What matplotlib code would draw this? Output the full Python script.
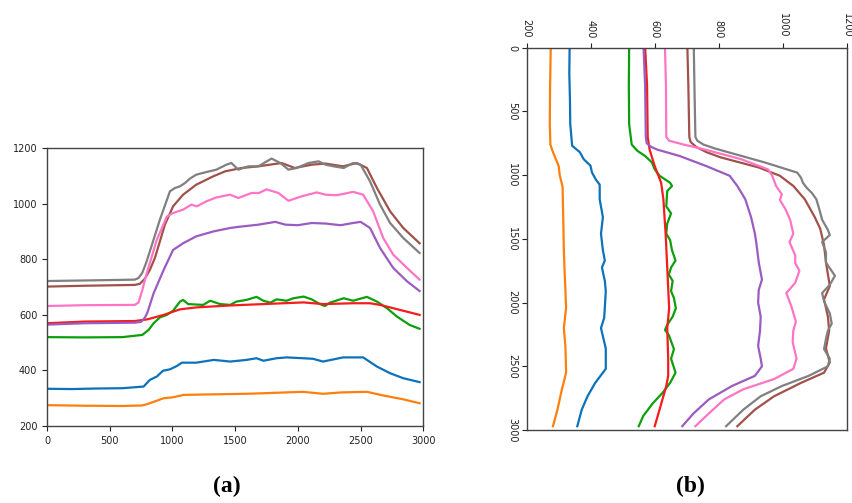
import numpy as np
import matplotlib.pyplot as plt

# spectra along the scan, read at key positions
orange_x = [0, 300, 600, 760, 800, 850, 930, 1000, 1090, 1330, 1590, 1730, 1850, 2040, 2200, 2350, 2550,
            2680, 2840, 2970]
orange_y = [275, 273, 272, 274, 279, 287, 300, 303, 312, 314, 316, 318, 320, 323, 316, 321, 323,
            310, 296, 282]

blue_x = [0, 200, 400, 600, 770, 820, 875, 925, 980, 1035, 1075, 1190, 1330, 1460, 1590, 1670, 1725,
          1830, 1910, 2040, 2120, 2200, 2360, 2520, 2630, 2735, 2840, 2970]
blue_y = [334, 333, 335, 336, 342, 366, 378, 399, 404, 416, 428, 428, 438, 432, 438, 444, 435,
          444, 447, 444, 442, 432, 447, 447, 414, 390, 372, 358]

green_x = [0, 300, 600, 760, 810, 850, 900, 955, 1005, 1060, 1085, 1125, 1245, 1300, 1380, 1460, 1510,
           1590, 1670, 1725, 1780, 1830, 1910, 1965, 2045, 2110, 2175, 2215, 2255, 2365, 2440, 2550,
           2630, 2710, 2790, 2890, 2970]
green_y = [520, 519, 520, 528, 546, 570, 591, 600, 615, 648, 654, 639, 636, 651, 639, 636, 648,
           654, 665, 651, 644, 656, 651, 660, 666, 656, 639, 632, 644, 660, 651, 665,
           648, 624, 594, 564, 550]

red_x = [0, 300, 700, 800, 930, 1060, 1190, 1460, 1725, 2045, 2200, 2440, 2575, 2655, 2840, 2970]
red_y = [570, 576, 578, 584, 600, 620, 627, 634, 639, 645, 639, 642, 642, 636, 615, 600]

purple_x = [0, 300, 700, 750, 780, 800, 850, 930, 1005, 1085, 1190, 1330, 1460, 1525, 1685, 1820, 1900,
            2000, 2110, 2220, 2340, 2440, 2500, 2575, 2655, 2760, 2870, 2970]
purple_y = [565, 570, 572, 575, 590, 608, 678, 762, 834, 858, 883, 901, 913, 917, 925, 935, 925,
            923, 931, 929, 923, 931, 935, 913, 841, 769, 721, 686]

pink_x = [0, 300, 700, 730, 760, 795, 875, 955, 1005, 1085, 1150, 1195, 1270, 1350, 1460, 1525, 1630,
          1690, 1750, 1845, 1925, 2030, 2150, 2220, 2310, 2440, 2520, 2600, 2680, 2760, 2870, 2970]
pink_y = [632, 635, 636, 645, 690, 750, 870, 954, 967, 979, 997, 991, 1009, 1023, 1033, 1021, 1039,
          1039, 1052, 1039, 1011, 1027, 1041, 1033, 1031, 1043, 1033, 973, 877, 817, 769, 727]

brown_x = [0, 300, 700, 740, 780, 820, 860, 940, 1005, 1085, 1190, 1325, 1420, 1550, 1685, 1870, 1975,
           2110, 2220, 2360, 2470, 2550, 2630, 2735, 2840, 2970]
brown_y = [702, 705, 708, 712, 730, 762, 805, 925, 991, 1033, 1069, 1099, 1117, 1129, 1135, 1147, 1129,
           1141, 1145, 1135, 1147, 1129, 1057, 973, 913, 858]

gray_x = [0, 300, 700, 730, 760, 790, 820, 900, 980, 1020, 1060, 1100, 1140, 1190, 1275, 1350, 1430,
          1470, 1525, 1605, 1685, 1790, 1860, 1925, 1990, 2085, 2165, 2220, 2285, 2365, 2440, 2500,
          2575, 2655, 2735, 2840, 2970]
gray_y = [722, 724, 727, 733, 752, 787, 829, 943, 1045, 1057, 1063, 1075, 1091, 1105, 1115, 1123, 1141,
          1147, 1123, 1135, 1135, 1163, 1147, 1123, 1129, 1147, 1153, 1141, 1135, 1129, 1147, 1141,
          1081, 997, 931, 877, 823]

series = [
    (blue_x, blue_y, '#0c72bb'),
    (orange_x, orange_y, '#ff7f0e'),
    (green_x, green_y, '#0ba00b'),
    (red_x, red_y, '#f41c1c'),
    (purple_x, purple_y, '#9b5cc2'),
    (brown_x, brown_y, '#a0524a'),
    (pink_x, pink_y, '#ff74c6'),
    (gray_x, gray_y, '#808080'),
]

fig = plt.figure(figsize=(8.53, 5.03), dpi=100)

ax1 = fig.add_axes([0.0551, 0.1531, 0.4412, 0.5521])
ax2 = fig.add_axes([0.6175, 0.1451, 0.3752, 0.7601])

for xs, ys, c in series:
    ax1.plot(xs, ys, color=c, lw=1.6)
    ax2.plot(ys, xs, color=c, lw=1.6)

ax1.set_xlim(0, 3000)
ax1.set_ylim(200, 1200)
ax1.set_xticks(np.arange(0, 3001, 500))
ax1.set_yticks(np.arange(200, 1201, 200))

# rotated view: position runs downward, values along the top
ax2.set_xlim(200, 1200)
ax2.set_ylim(3000, 0)
ax2.set_xticks(np.arange(200, 1201, 200))
ax2.set_yticks(np.arange(0, 3001, 500))
ax2.xaxis.tick_top()
for lab in ax2.get_xticklabels():
    lab.set_rotation(-90)
for lab in ax2.get_yticklabels():
    lab.set_rotation(-90)
    lab.set_va('center')

for ax in (ax1, ax2):
    ax.tick_params(labelsize=7, colors='#222222', length=3.5, width=0.8)
    for sp in ax.spines.values():
        sp.set_color('#444444')
        sp.set_linewidth(1.0)

fig.text(0.266, 0.012, '(a)', ha='center', va='bottom', fontsize=17,
         fontweight='bold', family='Liberation Serif')
fig.text(0.809, 0.012, '(b)', ha='center', va='bottom', fontsize=17,
         fontweight='bold', family='Liberation Serif')

fig.savefig('out.png', dpi=100)
